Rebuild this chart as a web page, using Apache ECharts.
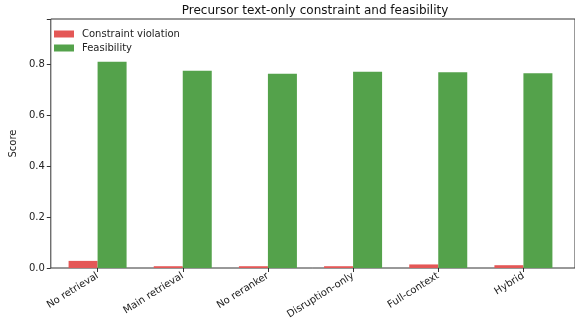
<!DOCTYPE html>
<html>
<head>
<meta charset="utf-8">
<script src="https://cdn.jsdelivr.net/npm/echarts@6/dist/echarts.min.js"></script>
<style>
  html, body { margin: 0; padding: 0; background: #fff; }
  #chart { width: 575px; height: 331px; }
</style>
</head>
<body>
<div id="chart"></div>
<script>
// categories and values
const categories = ['No retrieval', 'Main retrieval', 'No reranker', 'Disruption-only', 'Full-context', 'Hybrid'];
const violation = [0.028, 0.007, 0.007, 0.007, 0.014, 0.011];
const feasibility = [0.812, 0.776, 0.765, 0.772, 0.770, 0.766];
const yTicks = [0, 0.2, 0.4, 0.6, 0.8];

const yMax = 0.98;
const font = 'DejaVu Sans';

const chart = echarts.init(document.getElementById('chart'));

let option = {
  animation: false,
  textStyle: { fontFamily: font },
  title: {
    text: 'Precursor text-only constraint and feasibility',
    left: 310,
    textAlign: 'center',
    top: 0,
    textStyle: { fontFamily: font, fontSize: 12, fontWeight: 'normal', color: '#111' }
  },
  legend: {
    left: 49,
    top: 24,
    orient: 'vertical',
    itemWidth: 20,
    itemHeight: 7,
    itemGap: 4,
    icon: 'rect',
    textStyle: { fontFamily: font, fontSize: 10, color: '#222', padding: [0, 0, 0, 3] },
    data: ['Constraint violation', 'Feasibility']
  },
  grid: [
    // frame (spines) + y axis, right spine sits just off the canvas
    { left: 45, right: -1, top: 19, bottom: 63, show: true, borderColor: '#333', borderWidth: 1, backgroundColor: 'transparent' },
    // bars, categories inset like matplotlib margins
    { left: 55, right: 9, top: 19, bottom: 63 }
  ],
  xAxis: [
    { gridIndex: 0, type: 'value', min: 0, max: 1, show: false },
    {
      gridIndex: 1,
      type: 'category',
      data: categories,
      axisLine: { show: false },
      axisTick: { show: true, alignWithLabel: true, length: 4, lineStyle: { color: '#333' } },
      axisLabel: { rotate: 32, fontSize: 10, color: '#222', margin: 7, interval: 0 }
    }
  ],
  yAxis: [
    {
      gridIndex: 0,
      type: 'value',
      min: 0,
      max: yMax,
      interval: 0.2,
      name: 'Score',
      nameLocation: 'middle',
      nameGap: 31,
      nameTextStyle: { fontFamily: font, fontSize: 10, color: '#222' },
      axisLine: { show: false },
      axisTick: { show: true, length: 4, lineStyle: { color: '#333' } },
      axisLabel: {
        fontSize: 10, color: '#222', margin: 6,
        formatter: v => yTicks.some(t => Math.abs(t - v) < 1e-9) ? v.toFixed(1) : ''
      },
      splitLine: { show: false }
    },
    { gridIndex: 1, type: 'value', min: 0, max: yMax, show: false }
  ],
  series: [
    {
      name: 'Constraint violation',
      type: 'bar',
      xAxisIndex: 1,
      yAxisIndex: 1,
      data: violation,
      barWidth: 29,
      barGap: '0%',
      itemStyle: { color: '#e45756' }
    },
    {
      name: 'Feasibility',
      type: 'bar',
      xAxisIndex: 1,
      yAxisIndex: 1,
      data: feasibility,
      barWidth: 29,
      barGap: '0%',
      itemStyle: { color: '#54a24b' }
    }
  ]
};

chart.setOption(option);
</script>
</body>
</html>
